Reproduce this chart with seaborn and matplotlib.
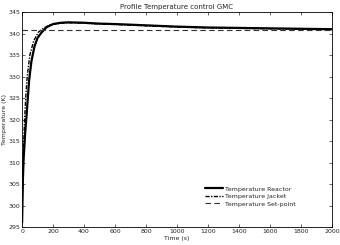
import matplotlib
matplotlib.use("Agg")
import matplotlib.pyplot as plt
import seaborn as sns
import pandas as pd

time_s = [0, 5, 10, 20, 30, 45, 60, 80, 100, 127, 160, 200, 250, 300, 400,
          500, 600, 800, 1000, 1200, 1400, 1600, 1800, 2000]
temp_reactor = [296.0, 306.0, 311.0, 317.0, 321.5, 329.0, 333.5, 337.0, 339.0, 340.3,
                341.5, 342.2, 342.5, 342.6, 342.5, 342.3, 342.2, 341.9, 341.6,
                341.4, 341.3, 341.2, 341.1, 341.0]
time_j = [0, 5, 10, 16, 25, 33, 50, 75, 105, 140, 180, 250, 300, 400,
          500, 600, 800, 1000, 1200, 1400, 1600, 1800, 2000]
temp_jacket = [298.0, 308.0, 314.0, 320.0, 326.0, 330.0, 335.0, 338.3, 340.3, 341.3,
               342.0, 342.4, 342.5, 342.4, 342.2, 342.1, 341.8, 341.5,
               341.3, 341.2, 341.1, 341.0, 340.9]
setpoint = 340.8
xticks = [0, 200, 400, 600, 800, 1000, 1200, 1400, 1600, 1800, 2000]
yticks = [295, 300, 305, 310, 315, 320, 325, 330, 335, 340, 345]

sns.set_theme(style="white")
plt.rcParams['font.family'] = ['DejaVu Sans']

df_r = pd.DataFrame({"t": time_s, "T": temp_reactor})
df_j = pd.DataFrame({"t": time_j, "T": temp_jacket})
df_s = pd.DataFrame({"t": [0, 2000], "T": [setpoint, setpoint]})

fig = plt.figure(figsize=(3.4, 2.45), dpi=100)
ax = fig.add_axes([0.065, 0.073, 0.911, 0.878])

sns.lineplot(data=df_r, x="t", y="T", ax=ax, color="black", linewidth=1.6,
             label="Temperature Reactor")
sns.lineplot(data=df_j, x="t", y="T", ax=ax, color="black", linewidth=1.0,
             linestyle=(0, (3, 1, 1, 1)), label="Temperature Jacket")
sns.lineplot(data=df_s, x="t", y="T", ax=ax, color="#333333", linewidth=0.8,
             linestyle=(0, (5, 3)), label="Temperature Set-point")

ax.set_xlim(0, 2000)
ax.set_ylim(295, 345)
ax.set_xticks(xticks)
ax.set_yticks(yticks)
ax.tick_params(direction="in", length=2.5, width=0.5, labelsize=4.5, pad=1.5,
               top=True, right=True, bottom=True, left=True)
for s in ax.spines.values():
    s.set_linewidth(0.6)
    s.set_color("black")
ax.set_xlabel("Time (s)", fontsize=4.5, labelpad=1)
ax.set_ylabel("Temperature (K)", fontsize=4.5, labelpad=1)
ax.set_title("Profile Temperature control GMC", fontsize=5, pad=2)
ax.legend(loc="lower right", bbox_to_anchor=(0.885, 0.095), frameon=False, fontsize=4.5,
          handlelength=2.9, labelspacing=0.35, handletextpad=0.4, borderaxespad=0,
          borderpad=0)

fig.savefig("out.png", dpi=100)
